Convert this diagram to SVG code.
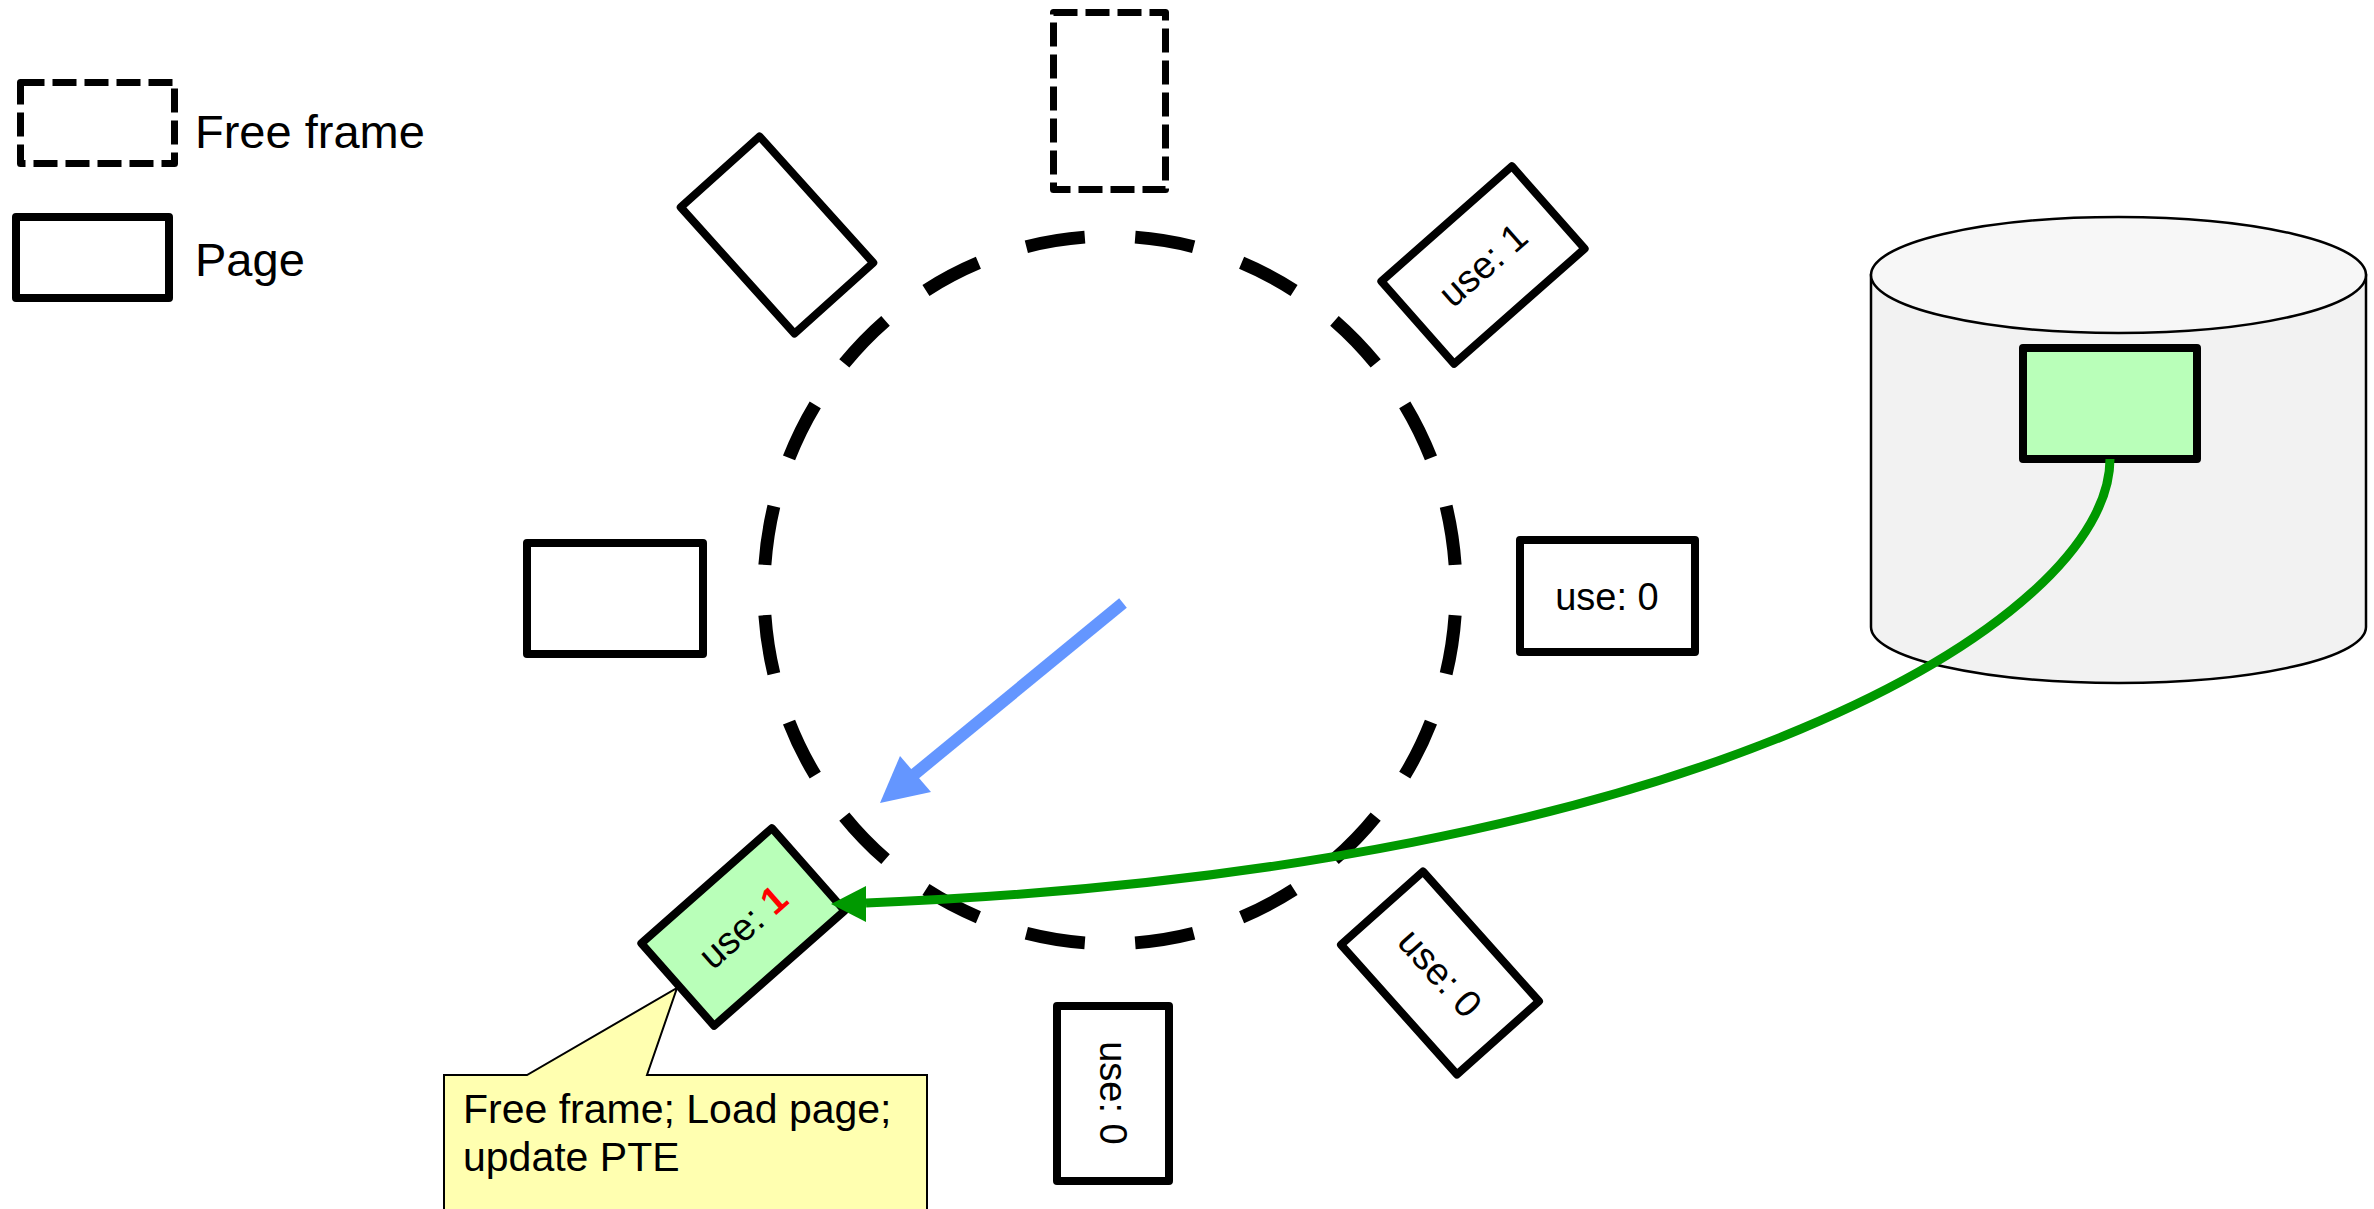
<svg xmlns="http://www.w3.org/2000/svg" width="2374" height="1209" viewBox="0 0 2374 1209">
<defs>
<style>
.page{fill:#fff;stroke:#000;stroke-width:8;stroke-linejoin:round}
.free{fill:#fff;stroke:#000;stroke-width:7;stroke-dasharray:24 8;stroke-linejoin:round}
.green{fill:#b9ffb9}
.lbl{font-family:"Liberation Sans",Arial,sans-serif;font-size:38px;fill:#000}
.leg{font-family:"Liberation Sans",Arial,sans-serif;font-size:47px;fill:#000}
.note{font-family:"Liberation Sans",Arial,sans-serif;font-size:41px;fill:#000}
</style>
</defs>
<rect width="2374" height="1209" fill="#fff"/>

<g id="legend">
<rect class="free" x="20.5" y="82.5" width="154" height="81"/>
<text class="leg" x="195" y="148">Free frame</text>
<rect class="page" x="16" y="217" width="153" height="81"/>
<text class="leg" x="195" y="276">Page</text>
</g>

<g id="clock">
<path d="M1456,590 A346,354 0 0 1 764,590 A346,354 0 0 1 1456,590 Z" pathLength="2000" fill="none" stroke="#000" stroke-width="13" stroke-dasharray="54 46" stroke-dashoffset="77"/>
</g>

<g id="frame-top">
<rect class="free" x="1053.5" y="12.5" width="112" height="177"/>
</g>

<g id="page-upper-left">
<rect class="page" transform="translate(777,235) rotate(48)" x="-85" y="-53" width="170" height="106"/>
</g>

<g id="page-upper-right">
<rect class="page" transform="translate(1483,265) rotate(-41.4)" x="-87" y="-55" width="174" height="110"/>
<text class="lbl" transform="translate(1483,265) rotate(-41.4)" x="0" y="13" text-anchor="middle">use: 1</text>
</g>

<g id="page-left">
<rect class="page" x="527" y="543" width="176" height="111"/>
</g>

<g id="page-right">
<rect class="page" x="1520" y="540" width="175" height="112"/>
<text class="lbl" x="1607" y="610" text-anchor="middle">use: 0</text>
</g>

<g id="page-bottom-right">
<rect class="page" transform="translate(1440,973) rotate(48.2)" x="-87" y="-55" width="174" height="110"/>
<text class="lbl" transform="translate(1440,973) rotate(48.2)" x="0" y="13" text-anchor="middle">use: 0</text>
</g>

<g id="page-bottom">
<rect class="page" x="1057" y="1006" width="112" height="175"/>
<text class="lbl" transform="translate(1113,1093) rotate(90)" x="0" y="13" text-anchor="middle">use: 0</text>
</g>

<g id="page-loaded">
<rect class="page green" transform="translate(743,927) rotate(-41.4)" x="-87" y="-55" width="174" height="110"/>
<text class="lbl" transform="translate(743,927) rotate(-41.4)" x="0" y="13" text-anchor="middle">use: <tspan fill="#ff0000" font-weight="bold">1</tspan></text>
</g>

<g id="disk">
<path d="M1871,275 L1871,627 A247.5,56 0 0 0 2366,627 L2366,275 Z" fill="#f2f2f2" stroke="#000" stroke-width="2.5"/>
<ellipse cx="2118.5" cy="275" rx="247.5" ry="58" fill="#f7f7f7" stroke="#000" stroke-width="2.5"/>
<rect class="page green" x="2023" y="348" width="174" height="111"/>
</g>

<g id="callout">
<path d="M444,1075 L527,1075 L677,988 L647,1075 L927,1075 L927,1215 L444,1215 Z" fill="#ffffb0" stroke="#000" stroke-width="2"/>
<text class="note" x="463" y="1123">Free frame; Load page;</text>
<text class="note" x="463" y="1171">update PTE</text>
</g>

<g id="connectors">
<path d="M2110,459 C2110,620 1700,870 866,903" fill="none" stroke="#009900" stroke-width="9"/>
<polygon points="831,904 866,886 866,922" fill="#009900"/>
<line x1="1123" y1="603" x2="905" y2="782" stroke="#6496ff" stroke-width="12"/>
<polygon points="880,803 900,756 931,792" fill="#6496ff"/>
</g>
</svg>
